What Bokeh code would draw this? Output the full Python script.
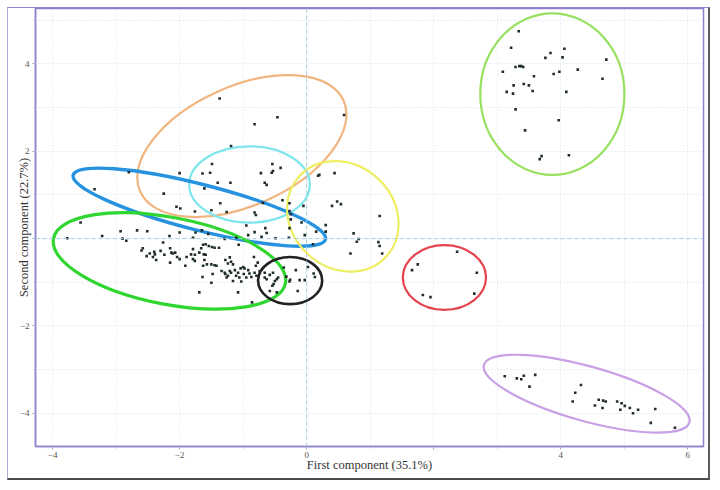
from bokeh.plotting import figure
from bokeh.models import Range1d, SingleIntervalTicker, Span, ColumnDataSource
from bokeh.embed import file_html
from bokeh.resources import INLINE

# ---------------- data (PCA scores) ----------------
top_right_x = [3.34, 3.22, 4.06, 3.84, 3.76, 4.03, 4.72, 3.29, 3.35, 3.38, 3.41, 3.09, 4.27, 3.98, 3.89,
               3.58, 4.66, 3.26, 3.42, 3.50, 3.15, 3.25, 3.56, 4.09, 3.29, 3.97, 3.44, 3.70, 3.67, 4.13]
top_right_y = [4.75, 4.37, 4.35, 4.25, 4.14, 4.15, 4.10, 3.93, 3.95, 3.95, 3.93, 3.82, 3.87, 3.82, 3.77,
               3.72, 3.66, 3.51, 3.54, 3.51, 3.36, 3.32, 3.38, 3.36, 2.96, 2.71, 2.48, 1.89, 1.82, 1.91]

red_x = [2.37, 1.75, 1.66, 2.68, 1.83, 1.95, 2.64]
red_y = [-0.30, -0.59, -0.72, -0.78, -1.29, -1.34, -1.26]

violet_x = [3.12, 3.31, 3.38, 3.42, 3.60, 3.51, 4.32, 4.23, 4.19, 4.54, 4.60, 4.67, 4.71, 4.66, 4.89,
            4.96, 5.01, 4.94, 5.09, 5.14, 5.22, 5.49, 5.42, 5.80]
violet_y = [-3.15, -3.20, -3.22, -3.14, -3.12, -3.39, -3.35, -3.53, -3.73, -3.82, -3.69, -3.71, -3.73, -3.88, -3.73,
            -3.77, -3.83, -3.92, -3.88, -4.00, -3.92, -3.90, -4.22, -4.33]

yellow_x = [0.54, 1.15, 0.74, 0.82, 0.79, 1.13, 1.15, 1.19, 0.69]
yellow_y = [0.79, 0.52, 0.12, -0.01, -0.07, -0.08, -0.17, -0.34, -0.34]

orange_x = [-1.37, -0.46, -0.82, 0.59]
orange_y = [3.21, 2.78, 2.62, 2.83]

left_x = [-2.80, -3.34, -2.25, -2.05, -1.99, -2.00, -3.56, -2.93, -2.67, -2.51, -3.22, -2.16, -2.00, -3.77,
          -2.90, -2.84, -2.26,
          -2.60, -2.58, -2.47, -2.52, -2.40, -2.39, -2.42, -2.37, -2.30, -2.24, -2.15, -2.13, -2.11, -2.07,
          -2.04, -2.00, -2.15, -1.89, -1.91]
left_y = [1.52, 1.13, 1.03, 0.73, 0.69, 1.50, 0.37, 0.17, 0.19, 0.17, 0.06, 0.06, 0.14, 0.01,
          0.00, -0.05, -0.09,
          -0.27, -0.22, -0.34, -0.40, -0.30, -0.36, -0.42, -0.49, -0.28, -0.37, -0.22, -0.32, -0.34, -0.32,
          -0.42, -0.47, -0.55, -0.42, -0.62]

mid_x = [-1.19, -1.49, -1.64, -1.52, -0.54, -0.41, -0.53, -0.55, -0.72, -0.66, -0.63, 0.18, 0.20, 0.44,
         -1.40, -1.20, -1.61, -1.36, -0.69, -0.38, -0.27, -0.05, 0.40, 0.48, -1.76, -1.50, -1.26, -0.82,
         -0.80, -0.27, -0.25, -0.25, -0.08, 0.30, -0.95, -0.65, -0.63, -0.82, -0.27, -0.03, 0.15, 0.30,
         -1.55, -1.75, -1.65, -1.29, -1.11, -0.49, -0.71, -0.28, -0.92, -1.79]
mid_y = [2.12, 1.71, 1.49, 1.51, 1.71, 1.62, 1.55, 1.51, 1.50, 1.28, 1.23, 1.44, 1.46, 1.50,
         1.28, 1.28, 1.15, 0.81, 0.82, 0.88, 0.81, 0.75, 0.75, 0.85, 0.62, 0.65, 0.61, 0.60,
         0.54, 0.63, 0.56, 0.44, 0.37, 0.31, 0.30, 0.24, 0.13, 0.15, 0.24, 0.08, 0.16, 0.16,
         0.11, 0.14, 0.19, -0.01, 0.02, 0.01, 0.04, 0.02, 0.08, 0.02]

low_x = [-1.63, -1.59, -1.54, -1.49, -1.45, -1.38, -1.07, -1.66, -1.79, -1.82, -1.76, -1.69, -1.62, -1.79,
         -1.76, -1.61, -1.59, -1.63, -1.57, -1.50, -1.45, -1.42, -1.28, -1.21, -1.19, -1.24, -1.16, -1.21,
         -1.34, -1.29, -1.28, -1.24, -1.19, -1.13, -1.08, -1.00, -0.98, -1.04, -0.92, -0.90, -0.99, -1.11,
         -1.06, -0.83, -0.77, -0.80, -0.74, -0.82, -0.79, -0.95, -0.87, -1.03, -1.16, -1.26, -1.48, -1.64,
         -1.50, -1.08, -1.69, -0.86,
         -0.66, -0.58, -0.66, -0.63, -0.53, -0.50, -0.47, -0.45, -0.52, -0.54, -0.58, -0.47, -0.36, -0.27,
         -0.26, -0.17, -0.14, -0.11, -0.03, 0.02, 0.11, 0.13, -0.32, 0.10]
low_y = [-0.14, -0.13, -0.17, -0.19, -0.21, -0.21, -0.14, -0.22, -0.24, -0.36, -0.37, -0.32, -0.36, -0.47,
         -0.51, -0.49, -0.37, -0.62, -0.59, -0.59, -0.61, -0.62, -0.49, -0.43, -0.53, -0.57, -0.59, -0.74,
         -0.74, -0.78, -0.81, -0.85, -0.78, -0.72, -0.78, -0.65, -0.68, -0.68, -0.72, -0.80, -0.81, -0.85,
         -0.89, -0.42, -0.55, -0.62, -0.74, -0.78, -0.85, -0.89, -0.88, -0.98, -0.97, -0.89, -0.81, -0.88,
         -1.01, -1.23, -1.23, -1.46,
         -0.78, -0.83, -0.89, -0.93, -0.78, -0.97, -0.93, -0.89, -1.04, -1.08, -1.20, -1.23, -0.66, -0.98,
         -0.94, -0.72, -1.20, -0.95, -0.95, -0.65, -0.80, -0.88, -0.87, -0.13]

# confidence ellipses: centre, width, height (data units), angle (deg)
ell_name = ["top_green", "red", "violet", "orange", "cyan", "blue", "green", "black", "yellow"]
ell_x = [3.87, 2.17, 4.41, -1.02, -0.90, -1.69, -2.16, -0.26, 0.57]
ell_y = [3.31, -0.89, -3.55, 2.12, 1.24, 0.72, -0.51, -0.96, 0.51]
ell_w = [2.27, 1.31, 3.36, 3.51, 1.90, 4.10, 3.72, 1.01, 1.865]
ell_h = [3.70, 1.48, 1.25, 2.73, 1.75, 1.05, 1.99, 1.08, 2.36]
ell_angle = [0.0, 0.0, -15.6, 24.1, 0.0, -14.3, -10.9, 0.0, -43.0]
ell_color = ["#98e060", "#e6434f", "#c9a0e6", "#f1b57f", "#7ee6ec", "#2692e0", "#2fd62f", "#222222", "#eeee62"]
ell_lw = [2.2, 2.2, 2.2, 2.2, 2.2, 3.4, 3.2, 2.6, 2.2]

x_label = "First component (35.1%)"
y_label = "Second component (22.7%)"

# ---------------- figure ----------------
p = figure(width=703, height=473, output_backend="svg", toolbar_location=None,
           x_range=Range1d(-4.27, 6.25), y_range=Range1d(-4.76, 5.27),
           min_border_left=27, min_border_right=8, min_border_top=0, min_border_bottom=35,
           background_fill_color="white", border_fill_color="white")
p.styles = {"margin-left": "7px", "margin-top": "7px",
            "border-top": "1px solid #9486cc",
            "border-left": "1px solid #b4aad8", "border-right": "2px solid #5c5c5c",
            "border-bottom": "2px solid #4c4c4c"}

p.outline_line_color = "#8f80cc"
p.outline_line_width = 1.5
p.outline_line_alpha = 1.0

# axes
p.xaxis.ticker = SingleIntervalTicker(interval=2, num_minor_ticks=2)
p.yaxis.ticker = SingleIntervalTicker(interval=2, num_minor_ticks=2)
p.xaxis.major_label_overrides = {2: ""}
p.yaxis.major_label_overrides = {0: ""}
for ax in (p.xaxis[0], p.yaxis[0]):
    ax.axis_line_color = "#8f80cc"
    ax.axis_line_width = 1.5
    ax.major_tick_line_color = "#9a9ab0"
    ax.minor_tick_line_color = "#b0b0c4"
    ax.major_tick_in = 0
    ax.major_tick_out = 3
    ax.minor_tick_in = 0
    ax.minor_tick_out = 2
    ax.major_label_text_font = "Liberation Serif"
    ax.major_label_text_font_size = "9px"
    ax.major_label_text_color = "#555555"
    ax.axis_label_text_font = "Liberation Serif"
    ax.axis_label_text_font_size = "12.5px"
    ax.axis_label_text_font_style = "normal"
    ax.axis_label_text_color = "#333333"
p.xaxis.axis_label = x_label
p.yaxis.axis_label = y_label
p.xaxis.major_label_standoff = 2
p.xaxis.axis_label_standoff = -3
p.yaxis.major_label_standoff = 3
p.yaxis.axis_label_standoff = -14

# grids at every unit, dotted
p.xgrid.ticker = SingleIntervalTicker(interval=1)
p.ygrid.ticker = SingleIntervalTicker(interval=1)
for g in (p.xgrid[0], p.ygrid[0]):
    g.grid_line_color = "#d6e2ea"
    g.grid_line_dash = "1 2"
    g.grid_line_width = 1

# dashed zero lines
p.add_layout(Span(location=0, dimension="height", line_color="#a6cde4", line_dash="4 3", line_width=1))
p.add_layout(Span(location=0, dimension="width", line_color="#a6cde4", line_dash="4 3", line_width=1))

# ellipses
esrc = ColumnDataSource(dict(x=ell_x, y=ell_y, w=ell_w, h=ell_h, a=ell_angle, c=ell_color, lw=ell_lw))
p.ellipse(x="x", y="y", width="w", height="h", angle="a", angle_units="deg", source=esrc,
          fill_color=None, line_color="c", line_width="lw")

# points
all_x = top_right_x + red_x + violet_x + yellow_x + orange_x + left_x + mid_x + low_x
all_y = top_right_y + red_y + violet_y + yellow_y + orange_y + left_y + mid_y + low_y
p.scatter(all_x, all_y, marker="square", size=2.6, fill_color="#1f2c2c", line_color=None)

open("out.html", "w").write(file_html(p, INLINE))
